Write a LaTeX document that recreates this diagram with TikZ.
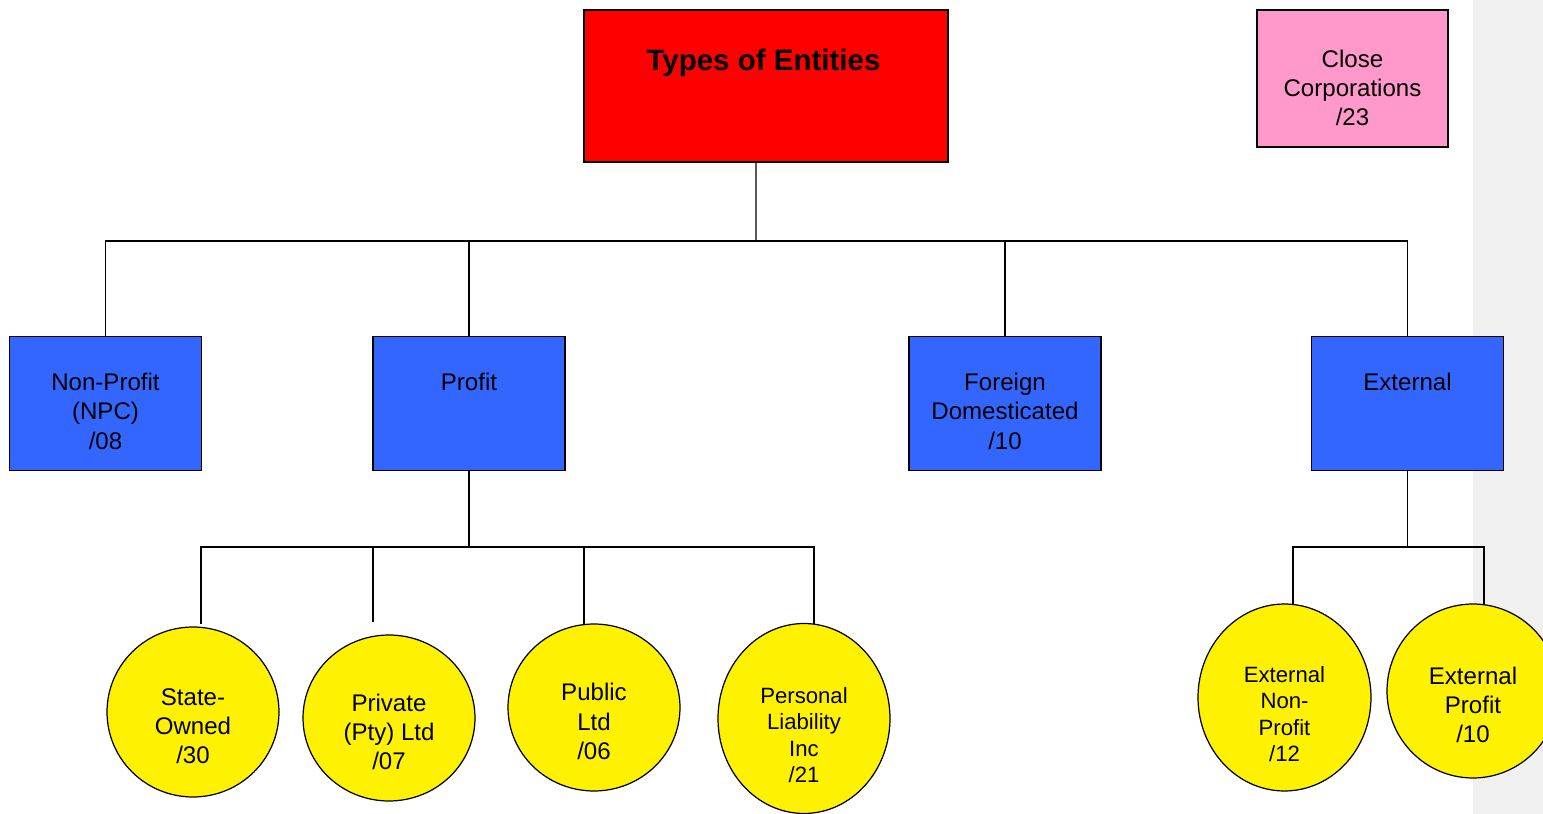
\documentclass[tikz,border=0pt]{standalone}
\usepackage{fontspec}
\setmainfont{Liberation Sans}
\usetikzlibrary{shapes,positioning}
\definecolor{entblue}{RGB}{51,102,255}
\definecolor{entpink}{RGB}{255,153,204}
\definecolor{sidegrey}{RGB}{240,240,240}

\begin{document}
\begin{tikzpicture}[x=0.02cm,y=-0.02cm,
    tx/.style={inner sep=0,align=center,font=\fontsize{13.7}{16.6}\selectfont},
    blk/.style={draw,line width=0.7pt,fill=entblue,minimum width=3.84cm,minimum height=2.68cm},
    toptext/.style={label={[tx,anchor=north,yshift=-0.74cm]north:#1}},
    ov/.style={ellipse,draw,line width=0.7pt,fill=yellow,inner sep=0,minimum width=3.44cm},
    ctext/.style={label={[tx,anchor=center,yshift=-0.28cm]center:#1}},
    smtext/.style={label={[tx,font=\fontsize{12.6}{15}\selectfont,anchor=center,yshift=-0.33cm]center:#1}},
    con/.style={line width=0.6pt}]
    \clip (0,0) rectangle (1543,814);
    \fill[sidegrey] (1473,0) rectangle (1543,814);

    % top row
    \node[draw,line width=0.7pt,fill=red,minimum width=7.28cm,minimum height=3.04cm,
      label={[tx,font=\fontsize{16.8}{19}\selectfont\bfseries,anchor=north,xshift=-0.05cm,yshift=-0.78cm]north:Types of Entities}] (root) at (766,86) {};
    \node[draw,line width=0.7pt,fill=entpink,minimum width=3.82cm,minimum height=2.74cm,
      label={[tx,anchor=north,yshift=-0.8cm]north:Close\\Corporations\\/23}] (cc) at (1352.5,78.5) {};

    % second row
    \node[blk,toptext={Non-Profit\\(NPC)\\/08}] (npc) at (105.5,403.5) {};
    \node[blk,toptext={Profit}] (pro) at (469,403.5) {};
    \node[blk,toptext={Foreign\\Domesticated\\/10}] (fd) at (1005,403.5) {};
    \node[blk,toptext={External}] (ext) at (1407.5,403.5) {};

    % third row
    \node[ov,minimum height=3.40cm,ctext={State-\\Owned\\/30}] (so) at (193,712) {};
    \node[ov,minimum height=3.32cm,ctext={Private\\(Pty) Ltd\\/07}] (pty) at (389,718) {};
    \node[ov,minimum height=3.34cm,ctext={Public\\Ltd\\/06}] (pub) at (594,707.5) {};
    \node[ov,minimum height=3.80cm,smtext={Personal\\Liability\\Inc\\/21}] (pli) at (804,718.5) {};
    \node[ov,minimum width=3.46cm,minimum height=3.74cm,smtext={External\\Non-\\Profit\\/12}] (enp) at (1284.5,697.5) {};
    \node[ov,minimum height=3.48cm,ctext={External\\Profit\\/10}] (ep) at (1473,691) {};

    % connectors
    \coordinate (rb) at (756,241);
    \coordinate (pb) at (469,547);
    \coordinate (soTop) at (201,624);
    \coordinate (ptyTop) at (373,622);
    \coordinate (pubTop) at (584,624);
    \coordinate (pliTop) at (814,624);
    \coordinate (enpTop) at (1293,604);
    \coordinate (epTop) at (1484,604);
    \draw[con] ([xshift=-0.2cm]root.south) -- (rb);
    \draw[con] (npc.north) |- (rb) -| (ext.north);
    \draw[con] (pro.north) -- (pro.north |- rb);
    \draw[con] (fd.north) -- (fd.north |- rb);
    \draw[con] (pro.south) -- (pb);
    \draw[con] (soTop) |- (pb) -| (pliTop);
    \draw[con] (ptyTop) -- (ptyTop |- pb);
    \draw[con] (pubTop) -- (pubTop |- pb);
    \draw[con] (ext.south) -- (ext.south |- pb) coordinate (eb);
    \draw[con] (enpTop) |- (eb) -| (epTop);
\end{tikzpicture}
\end{document}
